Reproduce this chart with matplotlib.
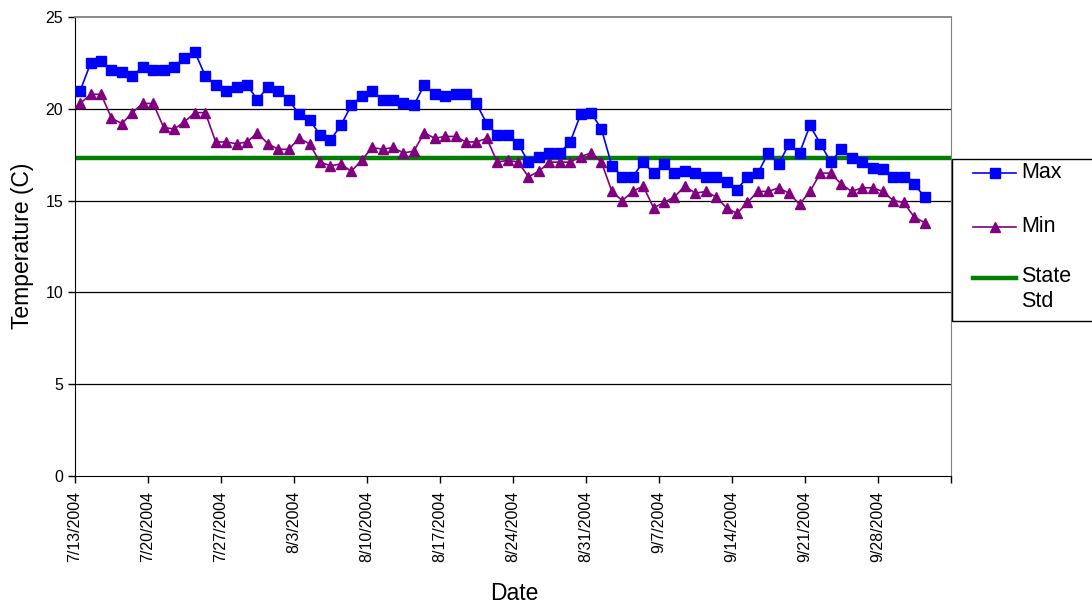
import matplotlib
matplotlib.use("Agg")
import matplotlib.pyplot as plt
from matplotlib.lines import Line2D
from matplotlib.patches import Rectangle
import pandas as pd

plt.rcParams["font.family"] = ["Liberation Sans", "DejaVu Sans"]

# daily values, 7/13/2004 .. 10/2/2004
start_date = "2004-07-13"
max_temp = [21.0, 22.5, 22.6, 22.1, 22.0, 21.8, 22.3, 22.1, 22.1, 22.3,
            22.8, 23.1, 21.8, 21.3, 21.0, 21.2, 21.3, 20.5, 21.2, 21.0,
            20.5, 19.7, 19.4, 18.6, 18.3, 19.1, 20.2, 20.7, 21.0, 20.5,
            20.5, 20.3, 20.2, 21.3, 20.8, 20.7, 20.8, 20.8, 20.3, 19.2,
            18.6, 18.6, 18.1, 17.1, 17.4, 17.6, 17.6, 18.2, 19.7, 19.8,
            18.9, 16.9, 16.3, 16.3, 17.1, 16.5, 17.0, 16.5, 16.6, 16.5,
            16.3, 16.3, 16.0, 15.6, 16.3, 16.5, 17.6, 17.0, 18.1, 17.6,
            19.1, 18.1, 17.1, 17.8, 17.3, 17.1, 16.8, 16.7, 16.3, 16.3,
            15.9, 15.2]
min_temp = [20.3, 20.8, 20.8, 19.5, 19.2, 19.8, 20.3, 20.3, 19.0, 18.9,
            19.3, 19.8, 19.8, 18.2, 18.2, 18.1, 18.2, 18.7, 18.1, 17.8,
            17.8, 18.4, 18.1, 17.1, 16.9, 17.0, 16.6, 17.2, 17.9, 17.8,
            17.9, 17.6, 17.7, 18.7, 18.4, 18.5, 18.5, 18.2, 18.2, 18.4,
            17.1, 17.2, 17.1, 16.3, 16.6, 17.1, 17.1, 17.1, 17.4, 17.6,
            17.1, 15.5, 15.0, 15.5, 15.8, 14.6, 14.9, 15.2, 15.8, 15.4,
            15.5, 15.2, 14.6, 14.3, 14.9, 15.5, 15.5, 15.7, 15.4, 14.8,
            15.5, 16.5, 16.5, 15.9, 15.5, 15.7, 15.7, 15.5, 15.0, 14.9,
            14.1, 13.8]
state_std = 17.3
y_ticks = [0, 5, 10, 15, 20, 25]

dates = pd.date_range(start_date, periods=len(max_temp), freq="D")
xpos = dates + pd.Timedelta(hours=12)  # Excel puts points mid-day
x_ticks = pd.date_range(start_date, "2004-10-05", freq="7D")

BLUE = "#0000FF"; PURPLE = "#800080"; GREEN = "#008000"

W, H = 1092, 607
fig = plt.figure(figsize=(W / 100, H / 100), dpi=100)
ax = fig.add_axes([75 / W, 1 - 475.6 / H, (950.7 - 75) / W, (475.6 - 17.3) / H])

ax.plot(xpos, max_temp, color=BLUE, lw=1.2, marker="s", ms=7.2, zorder=4)
ax.plot(xpos, min_temp, color=PURPLE, lw=1.2, marker="^", ms=7.6, zorder=3)
ax.axhline(state_std, color=GREEN, lw=3.2, zorder=2)

ax.set_ylim(0, 25)
ax.set_yticks(y_ticks)
ax.set_xlim(pd.Timestamp(start_date), pd.Timestamp("2004-10-05"))
ax.set_xticks(x_ticks)
ax.set_xticklabels([f"{d.month}/{d.day}/{d.year}" if i < len(x_ticks) - 1 else ""
                    for i, d in enumerate(x_ticks)], rotation=90)
ax.tick_params(axis="both", direction="out", length=5, width=1, labelsize=11.5)
ax.tick_params(axis="x", pad=6)
for y in y_ticks[1:-1]:
    ax.axhline(y, color="black", lw=0.9, zorder=1)
for s in ("top", "right"):
    ax.spines[s].set_color("#808080")
ax.spines["top"].set_linewidth(1.3)

fig.text(23 / W, 1 - 246 / H, "Temperature (C)", rotation=90, ha="center",
         va="center", fontsize=16.5)
fig.text(514 / W, 1 - 594 / H, "Date", ha="center", va="center", fontsize=16.5)

# legend box (runs off the right edge like the original)
fig.add_artist(Rectangle((951.5 / W, 1 - 321 / H), 200 / W, (321 - 159) / H,
                         transform=fig.transFigure, fill=False,
                         edgecolor="black", lw=1, clip_on=False))
entries = [("Max", BLUE, "s", 1.2, 173),
           ("Min", PURPLE, "^", 1.2, 227),
           ("State\nStd", GREEN, None, 3.2, 278)]
for label, c, m, lw, yy in entries:
    yf = 1 - yy / H
    fig.add_artist(Line2D([973 / W, 1016 / W], [yf, yf], color=c, lw=lw,
                          transform=fig.transFigure))
    if m:
        fig.add_artist(Line2D([994.5 / W], [yf], color=c, marker=m, ms=6.5,
                              transform=fig.transFigure))
    if "\n" in label:
        fig.text(1021 / W, 1 - (yy - 12) / H, label, ha="left", va="top",
                 fontsize=15.5, linespacing=1.25)
    else:
        fig.text(1021 / W, yf, label, ha="left", va="center", fontsize=15.5)

fig.savefig("out.png", dpi=100)
